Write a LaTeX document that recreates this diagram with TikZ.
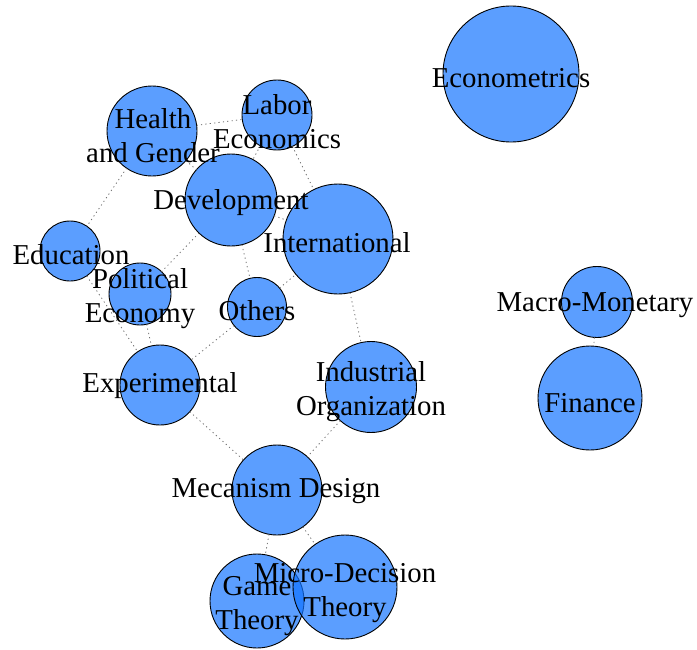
\documentclass[tikz,border=0pt]{standalone}
\usepackage{fontspec}
\setmainfont{Liberation Serif}
\definecolor{nodefill}{RGB}{17,115,255}
\definecolor{linkgray}{RGB}{110,110,110}
\tikzset{
  topic/.style={circle, draw=black, line width=0.9bp, fill=nodefill, fill opacity=0.69, draw opacity=1, inner sep=0pt, outer sep=0pt},
  lbl/.style={font=\fontsize{28.8bp}{34bp}\selectfont, align=center, text=black, inner sep=0pt, yshift=-3bp},
  link/.style={draw=linkgray, line width=0.8bp, dash pattern=on 1.2bp off 3.2bp}
}
\begin{document}
\begin{tikzpicture}[x=1bp,y=-1bp]
\useasboundingbox (0,0) rectangle (697,650);
% circles
\node[topic, minimum size=136bp] (econ) at (511,74) {};
\node[topic, minimum size=71bp] (macro) at (597,302) {};
\node[topic, minimum size=104bp] (fin) at (590,398) {};
\node[topic, minimum size=90bp] (health) at (152,131) {};
\node[topic, minimum size=70bp] (labor) at (277,115) {};
\node[topic, minimum size=92bp] (dev) at (231,200) {};
\node[topic, minimum size=110bp] (intl) at (338,239) {};
\node[topic, minimum size=60bp] (edu) at (70,251) {};
\node[topic, minimum size=62bp] (pol) at (140,294) {};
\node[topic, minimum size=59bp] (oth) at (257,307) {};
\node[topic, minimum size=80bp] (exp) at (160,385) {};
\node[topic, minimum size=91bp] (io) at (371,387) {};
\node[topic, minimum size=90bp] (mech) at (277,490) {};
\node[topic, minimum size=94bp] (game) at (257,601) {};
\node[topic, minimum size=104bp] (micro) at (345,587) {};
% links
\draw[link] (health) -- (labor);
\draw[link] (health) -- (dev);
\draw[link] (health) -- (edu);
\draw[link] (labor) -- (dev);
\draw[link] (labor) -- (intl);
\draw[link] (dev) -- (intl);
\draw[link] (dev) -- (pol);
\draw[link] (dev) -- (oth);
\draw[link] (edu) -- (exp);
\draw[link] (pol) -- (exp);
\draw[link] (oth) -- (intl);
\draw[link] (oth) -- (exp);
\draw[link] (intl) -- (io);
\draw[link] (exp) -- (mech);
\draw[link] (io) -- (mech);
\draw[link] (mech) -- (game);
\draw[link] (mech) -- (micro);
\draw[link] (macro) -- (fin);
% labels
\node[lbl] (econL) at (511,75) {Econometrics};
\node[lbl] (macroL) at (595,302) {Macro-Monetary};
\node[lbl] (finL) at (590,400) {Finance};
\node[lbl] (healthL) at (153,133) {Health\\and Gender};
\node[lbl] (laborL) at (277,119) {Labor\\Economics};
\node[lbl] (devL) at (231,200) {Development};
\node[lbl] (intlL) at (337,240) {International};
\node[lbl] (eduL) at (71,252) {Education};
\node[lbl] (polL) at (140,296) {Political\\Economy};
\node[lbl] (othL) at (257,308) {Others};
\node[lbl] (expL) at (160,383) {Experimental};
\node[lbl] (ioL) at (371,389) {Industrial\\Organization};
\node[lbl] (mechL) at (276,488) {Mecanism Design};
\node[lbl] (gameL) at (257,603) {Game\\Theory};
\node[lbl] (microL) at (345,590) {Micro-Decision\\Theory};
\end{tikzpicture}
\end{document}
